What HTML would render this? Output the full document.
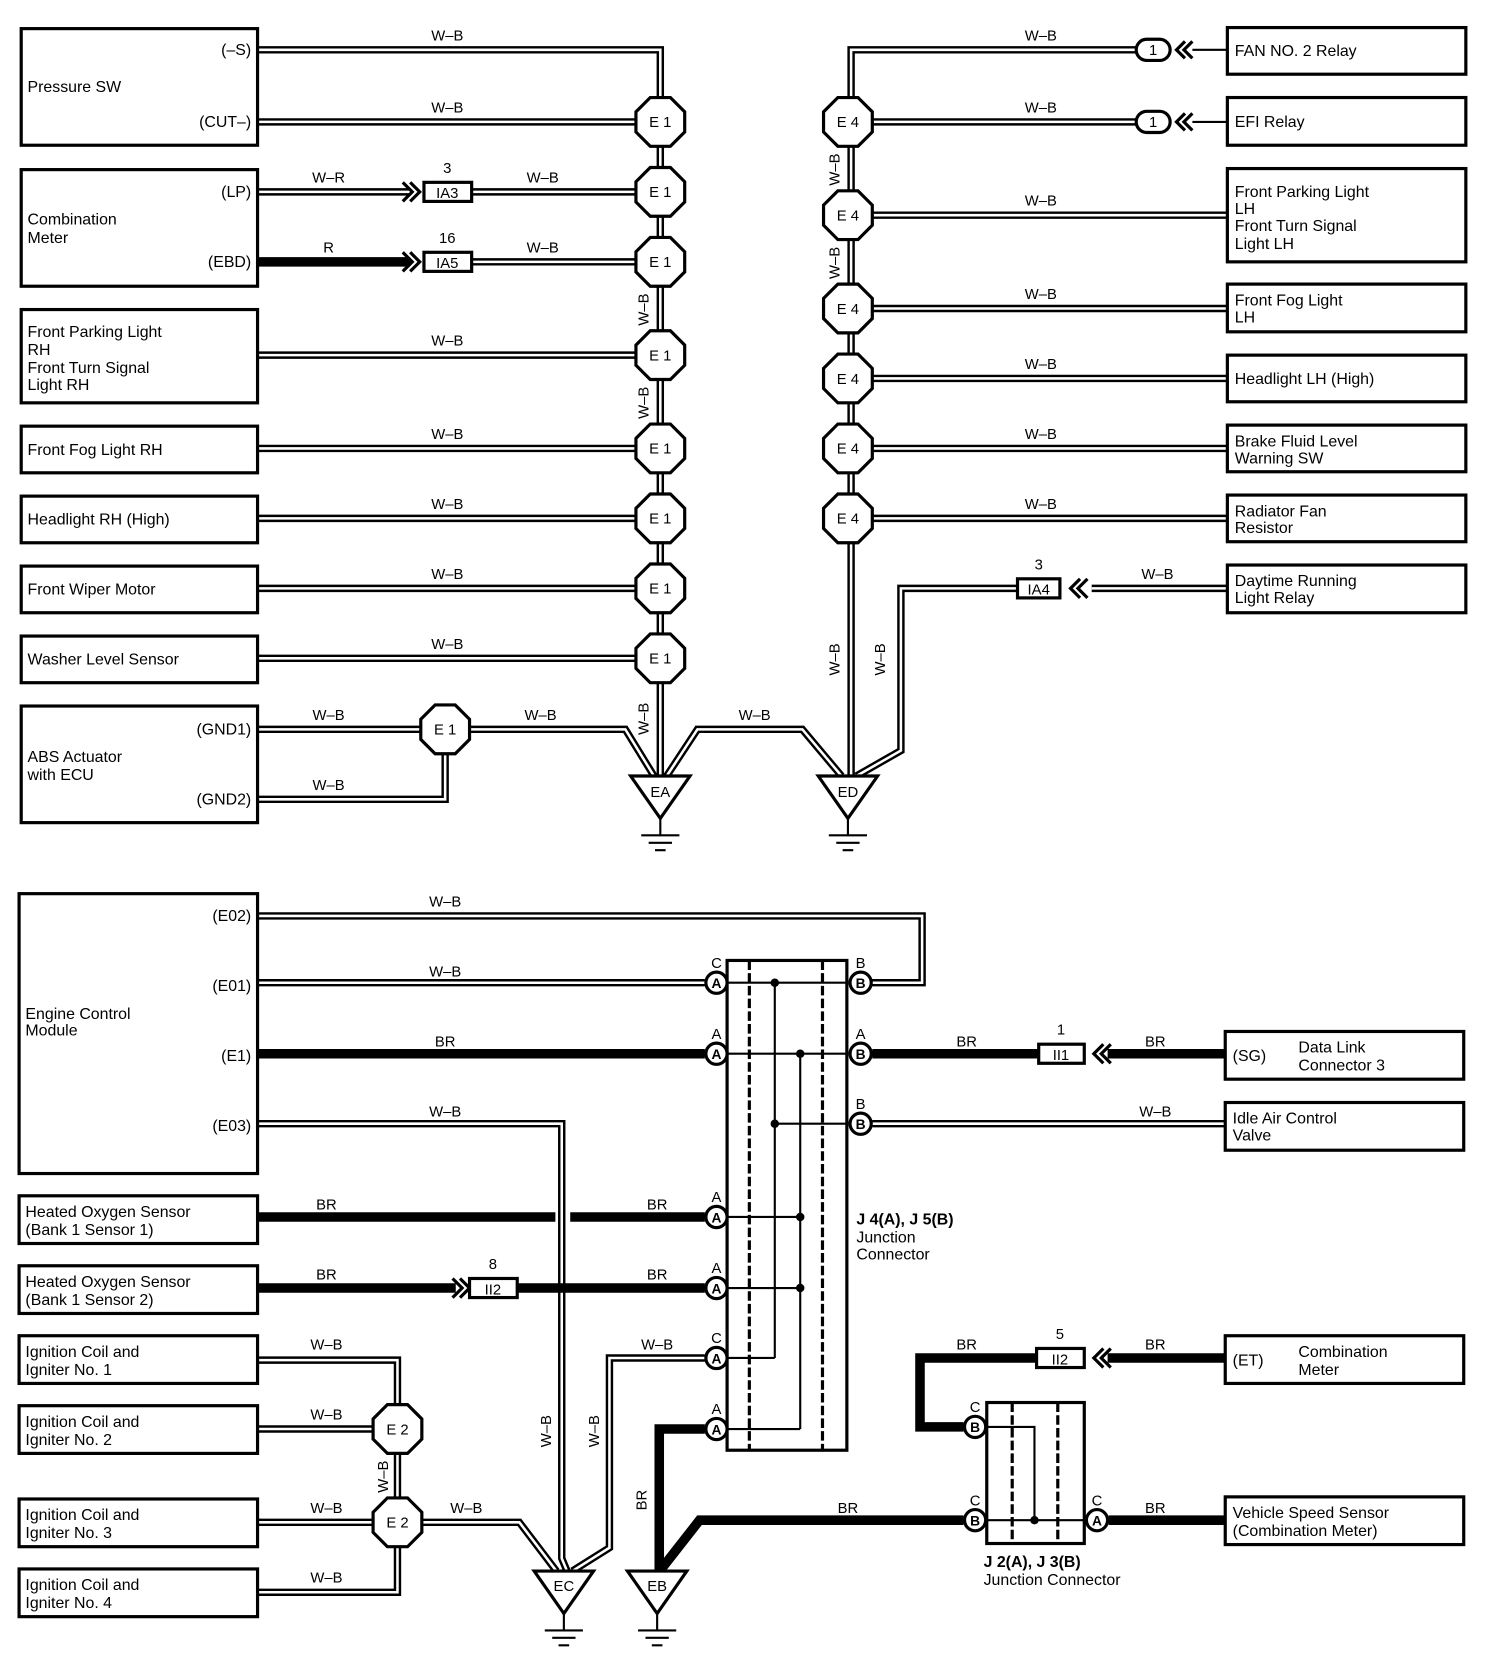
<!DOCTYPE html>
<html><head><meta charset="utf-8"><style>
html,body{margin:0;padding:0;background:#fff}
svg{display:block}
text{font-family:"Liberation Sans",sans-serif;font-size:15px;fill:#000}
.b{fill:#fff;stroke:#000;stroke-width:3}
.wb{fill:none;stroke:#000;stroke-width:7}
.wi{fill:none;stroke:#fff;stroke-width:2.4}
.br{fill:none;stroke:#000;stroke-width:9}
.t{fill:none;stroke:#000;stroke-width:2}
.c{fill:#fff;stroke:#000;stroke-width:3}
.ct{font-size:13px;font-weight:bold;text-anchor:middle}
.lb{font-size:14px;text-anchor:middle}
.sm{font-size:14px;text-anchor:middle}
.ch{fill:none;stroke:#000;stroke-width:3}
</style></head><body>
<svg width="1504" height="1658" viewBox="0 0 1419 1564" preserveAspectRatio="none" xmlns="http://www.w3.org/2000/svg">
<defs>
<polygon id="oct" points="-9.5,-23 9.5,-23 23,-9.5 23,9.5 9.5,23 -9.5,23 -23,9.5 -23,-9.5" class="c"/>
</defs>

<!-- ===== TOP WIRES (W-B double) ===== -->
<g>
<path id="w1" d="M243,47 H623 V732 M243,115 H600 M445,181 H600 M445,247 H600 M243,335 H600 M243,423 H600 M243,489 H600 M243,555 H600 M243,621 H600 M243,688 H397 M443,688 H590 L617,732 M243,754 H420 V711 M629,732 L658,688 H757 L794,732 M1072,47 H803 V732 M823,115 H1072 M823,203 H1158 M823,291 H1158 M823,357 H1158 M823,423 H1158 M823,489 H1158 M1158,555 H1030 M960,555 H850 V708 L808,732" class="wb"/>
<path d="M243,47 H623 V732 M243,115 H600 M445,181 H600 M445,247 H600 M243,335 H600 M243,423 H600 M243,489 H600 M243,555 H600 M243,621 H600 M243,688 H397 M443,688 H590 L617,732 M243,754 H420 V711 M629,732 L658,688 H757 L794,732 M1072,47 H803 V732 M823,115 H1072 M823,203 H1158 M823,291 H1158 M823,357 H1158 M823,423 H1158 M823,489 H1158 M1158,555 H1030 M960,555 H850 V708 L808,732" class="wi"/>
<!-- W-R -->
<path d="M243,181 H387" class="wb"/><path d="M243,181 H387" class="wi"/>
<!-- R thick -->
<path d="M243,247 H387" class="br"/>
<!-- single lines to relays -->
<path d="M1125,47 H1158 M1125,115 H1158" class="t"/>
</g>

<!-- chevrons -->
<path d="M380,172 L389,181 L380,190 M387,172 L396,181 L387,190" class="ch"/>
<path d="M380,238 L389,247 L380,256 M387,238 L396,247 L387,256" class="ch"/>
<path d="M1019,546 L1010,555 L1019,564 M1026,546 L1017,555 L1026,564" class="ch"/>
<path d="M1118,39 L1110,47 L1118,55 M1125,39 L1117,47 L1125,55" class="ch"/>
<path d="M1118,107 L1110,115 L1118,123 M1125,107 L1117,115 L1125,123" class="ch"/>

<!-- IA boxes -->
<rect x="400" y="172" width="45" height="18" class="b"/><text x="422" y="187" class="sm">IA3</text><text x="422" y="163" class="sm">3</text>
<rect x="400" y="238" width="45" height="18" class="b"/><text x="422" y="253" class="sm">IA5</text><text x="422" y="229" class="sm">16</text>
<rect x="960" y="546" width="40" height="18" class="b"/><text x="980" y="561" class="sm">IA4</text><text x="980" y="537" class="sm">3</text>
<!-- pills -->
<rect x="1072" y="37" width="32" height="20" rx="10" class="b"/><text x="1088" y="52" class="sm">1</text>
<rect x="1072" y="105" width="32" height="20" rx="10" class="b"/><text x="1088" y="120" class="sm">1</text>

<!-- octagons E1 -->
<g>
<use href="#oct" x="623" y="115"/><use href="#oct" x="623" y="181"/><use href="#oct" x="623" y="247"/><use href="#oct" x="623" y="335"/><use href="#oct" x="623" y="423"/><use href="#oct" x="623" y="489"/><use href="#oct" x="623" y="555"/><use href="#oct" x="623" y="621"/><use href="#oct" x="420" y="688"/>
<use href="#oct" x="800" y="115"/><use href="#oct" x="800" y="203"/><use href="#oct" x="800" y="291"/><use href="#oct" x="800" y="357"/><use href="#oct" x="800" y="423"/><use href="#oct" x="800" y="489"/>
</g>
<g class="sm" style="font-size:15px">
<text x="623" y="120" class="sm">E 1</text><text x="623" y="186" class="sm">E 1</text><text x="623" y="252" class="sm">E 1</text><text x="623" y="340" class="sm">E 1</text><text x="623" y="428" class="sm">E 1</text><text x="623" y="494" class="sm">E 1</text><text x="623" y="560" class="sm">E 1</text><text x="623" y="626" class="sm">E 1</text><text x="420" y="693" class="sm">E 1</text>
<text x="800" y="120" class="sm">E 4</text><text x="800" y="208" class="sm">E 4</text><text x="800" y="296" class="sm">E 4</text><text x="800" y="362" class="sm">E 4</text><text x="800" y="428" class="sm">E 4</text><text x="800" y="494" class="sm">E 4</text>
</g>

<!-- ground EA ED -->
<g>
<polygon points="595,732 651,732 623,772" class="b"/><text x="623" y="752" class="sm">EA</text>
<path d="M623,772 V788 M605,788 H641 M612,795 H634 M618,802 H628" class="t"/>
<polygon points="772,732 828,732 800,772" class="b"/><text x="800" y="752" class="sm">ED</text>
<path d="M800,772 V788 M782,788 H818 M789,795 H811 M795,802 H805" class="t"/>
</g>

<!-- top wire labels -->
<g class="lb">
<text x="422" y="38" class="lb">W–B</text><text x="422" y="106" class="lb">W–B</text>
<text x="310" y="172" class="lb">W–R</text><text x="512" y="172" class="lb">W–B</text>
<text x="310" y="238" class="lb">R</text><text x="512" y="238" class="lb">W–B</text>
<text x="422" y="326" class="lb">W–B</text><text x="422" y="414" class="lb">W–B</text><text x="422" y="480" class="lb">W–B</text><text x="422" y="546" class="lb">W–B</text><text x="422" y="612" class="lb">W–B</text>
<text x="310" y="679" class="lb">W–B</text><text x="510" y="679" class="lb">W–B</text><text x="310" y="745" class="lb">W–B</text>
<text x="712" y="679" class="lb">W–B</text>
<text x="982" y="38" class="lb">W–B</text><text x="982" y="106" class="lb">W–B</text><text x="982" y="194" class="lb">W–B</text><text x="982" y="282" class="lb">W–B</text><text x="982" y="348" class="lb">W–B</text><text x="982" y="414" class="lb">W–B</text><text x="982" y="480" class="lb">W–B</text><text x="1092" y="546" class="lb">W–B</text>
</g>
<g>
<text transform="translate(612,292) rotate(-90)" class="lb">W–B</text>
<text transform="translate(612,380) rotate(-90)" class="lb">W–B</text>
<text transform="translate(612,678) rotate(-90)" class="lb">W–B</text>
<text transform="translate(792,160) rotate(-90)" class="lb">W–B</text>
<text transform="translate(792,248) rotate(-90)" class="lb">W–B</text>
<text transform="translate(792,622) rotate(-90)" class="lb">W–B</text>
<text transform="translate(835,622) rotate(-90)" class="lb">W–B</text>
</g>

<!-- top boxes left -->
<rect x="20" y="27" width="223" height="110" class="b"/>
<text x="26" y="87">Pressure SW</text><text x="237" y="52" text-anchor="end">(–S)</text><text x="237" y="120" text-anchor="end">(CUT–)</text>
<rect x="20" y="160" width="223" height="110" class="b"/>
<text x="26" y="212">Combination</text><text x="26" y="229">Meter</text><text x="237" y="186" text-anchor="end">(LP)</text><text x="237" y="252" text-anchor="end">(EBD)</text>
<rect x="20" y="292" width="223" height="88" class="b"/>
<text x="26" y="318">Front Parking Light</text><text x="26" y="335">RH</text><text x="26" y="352">Front Turn Signal</text><text x="26" y="368">Light RH</text>
<rect x="20" y="402" width="223" height="44" class="b"/><text x="26" y="429">Front Fog Light RH</text>
<rect x="20" y="468" width="223" height="44" class="b"/><text x="26" y="495">Headlight RH (High)</text>
<rect x="20" y="534" width="223" height="44" class="b"/><text x="26" y="561">Front Wiper Motor</text>
<rect x="20" y="600" width="223" height="44" class="b"/><text x="26" y="627">Washer Level Sensor</text>
<rect x="20" y="666" width="223" height="110" class="b"/>
<text x="26" y="719">ABS Actuator</text><text x="26" y="736">with ECU</text><text x="237" y="693" text-anchor="end">(GND1)</text><text x="237" y="759" text-anchor="end">(GND2)</text>

<!-- top boxes right -->
<rect x="1158" y="26" width="225" height="44" class="b"/><text x="1165" y="53">FAN NO. 2 Relay</text>
<rect x="1158" y="92" width="225" height="45" class="b"/><text x="1165" y="120">EFI Relay</text>
<rect x="1158" y="159" width="225" height="88" class="b"/>
<text x="1165" y="186">Front Parking Light</text><text x="1165" y="202">LH</text><text x="1165" y="218">Front Turn Signal</text><text x="1165" y="235">Light LH</text>
<rect x="1158" y="268" width="225" height="45" class="b"/><text x="1165" y="288">Front Fog Light</text><text x="1165" y="304">LH</text>
<rect x="1158" y="335" width="225" height="44" class="b"/><text x="1165" y="362">Headlight LH (High)</text>
<rect x="1158" y="401" width="225" height="44" class="b"/><text x="1165" y="421">Brake Fluid Level</text><text x="1165" y="437">Warning SW</text>
<rect x="1158" y="467" width="225" height="44" class="b"/><text x="1165" y="487">Radiator Fan</text><text x="1165" y="503">Resistor</text>
<rect x="1158" y="533" width="225" height="45" class="b"/><text x="1165" y="553">Daytime Running</text><text x="1165" y="569">Light Relay</text>

<!-- ===== BOTTOM ===== -->
<path d="M243,864 H870 V927 H822 M243,927 H665 M243,1060 H530 V1470 L535,1482 M823,1060 H1156 M665,1281 H575 V1460 L540,1482 M243,1283 H375 V1325 M243,1348 H352 M375,1371 V1413 M243,1436 H352 M243,1502 H375 V1459 M398,1436 H490 L525,1482" class="wb"/>
<path d="M243,864 H870 V927 H822 M243,927 H665 M243,1060 H530 V1470 L535,1482 M823,1060 H1156 M665,1281 H575 V1460 L540,1482 M243,1283 H375 V1325 M243,1348 H352 M375,1371 V1413 M243,1436 H352 M243,1502 H375 V1459 M398,1436 H490 L525,1482" class="wi"/>
<path d="M243,994 H665 M823,994 H980 M1045,994 H1156 M243,1148 H524 M538,1148 H665 M243,1215 H430 M488,1215 H665 M665,1348 H622 V1482 M909,1434 H660 L624,1480 M909,1346 H868 V1281 H978 M1045,1281 H1156 M1046,1434 H1156" class="br"/>

<path d="M1041,985 L1032,994 L1041,1003 M1048,985 L1039,994 L1048,1003" class="ch"/>
<path d="M1041,1272 L1032,1281 L1041,1290 M1048,1272 L1039,1281 L1048,1290" class="ch"/>
<path d="M427,1206 L436,1215 L427,1224 M434,1206 L443,1215 L434,1224" class="ch"/>

<rect x="980" y="985" width="43" height="18" class="b"/><text x="1001" y="1000" class="sm">II1</text><text x="1001" y="976" class="sm">1</text>
<rect x="443" y="1206" width="45" height="18" class="b"/><text x="465" y="1221" class="sm">II2</text><text x="465" y="1197" class="sm">8</text>
<rect x="978" y="1272" width="45" height="18" class="b"/><text x="1000" y="1287" class="sm">II2</text><text x="1000" y="1263" class="sm">5</text>

<!-- J4/J5 -->
<rect x="686" y="906" width="113" height="462" class="b"/>
<path d="M707,906 V1368 M776,906 V1368" stroke="#000" stroke-width="3" stroke-dasharray="9,3" fill="none"/>
<path d="M686,927 H799 M731,927 V1281 M686,994 H799 M755,994 V1348 M731,1060 H799 M686,1148 H755 M686,1215 H755 M686,1281 H731 M686,1348 H755" class="t"/>
<g fill="#000"><circle cx="731" cy="927" r="4"/><circle cx="755" cy="994" r="4"/><circle cx="731" cy="1060" r="4"/><circle cx="755" cy="1148" r="4"/><circle cx="755" cy="1215" r="4"/></g>
<g>
<circle cx="676" cy="927" r="10" class="c"/><text x="676" y="932" class="ct">A</text><text x="676" y="913" class="sm">C</text>
<circle cx="676" cy="994" r="10" class="c"/><text x="676" y="999" class="ct">A</text><text x="676" y="980" class="sm">A</text>
<circle cx="676" cy="1148" r="10" class="c"/><text x="676" y="1153" class="ct">A</text><text x="676" y="1134" class="sm">A</text>
<circle cx="676" cy="1215" r="10" class="c"/><text x="676" y="1220" class="ct">A</text><text x="676" y="1201" class="sm">A</text>
<circle cx="676" cy="1281" r="10" class="c"/><text x="676" y="1286" class="ct">A</text><text x="676" y="1267" class="sm">C</text>
<circle cx="676" cy="1348" r="10" class="c"/><text x="676" y="1353" class="ct">A</text><text x="676" y="1334" class="sm">A</text>
<circle cx="812" cy="927" r="10" class="c"/><text x="812" y="932" class="ct">B</text><text x="812" y="913" class="sm">B</text>
<circle cx="812" cy="994" r="10" class="c"/><text x="812" y="999" class="ct">B</text><text x="812" y="980" class="sm">A</text>
<circle cx="812" cy="1060" r="10" class="c"/><text x="812" y="1065" class="ct">B</text><text x="812" y="1046" class="sm">B</text>
</g>
<text x="808" y="1155" font-weight="bold">J 4(A), J 5(B)</text><text x="808" y="1172">Junction</text><text x="808" y="1188">Connector</text>

<!-- J2/J3 -->
<rect x="931" y="1323" width="92" height="133" class="b"/>
<path d="M955,1323 V1456 M998,1323 V1456" stroke="#000" stroke-width="3" stroke-dasharray="9,3" fill="none"/>
<path d="M931,1346 H976 V1434 M931,1434 H1023" class="t"/>
<circle cx="976" cy="1434" r="4" fill="#000"/>
<circle cx="920" cy="1346" r="10" class="c"/><text x="920" y="1351" class="ct">B</text><text x="920" y="1332" class="sm">C</text>
<circle cx="920" cy="1434" r="10" class="c"/><text x="920" y="1439" class="ct">B</text><text x="920" y="1420" class="sm">C</text>
<circle cx="1035" cy="1434" r="10" class="c"/><text x="1035" y="1439" class="ct">A</text><text x="1035" y="1420" class="sm">C</text>
<text x="928" y="1478" font-weight="bold">J 2(A), J 3(B)</text><text x="928" y="1495">Junction Connector</text>

<!-- E2 -->
<use href="#oct" x="375" y="1348"/><use href="#oct" x="375" y="1436"/>
<text x="375" y="1353" class="sm">E 2</text><text x="375" y="1441" class="sm">E 2</text>

<!-- ground EC EB -->
<polygon points="504,1482 560,1482 532,1522" class="b"/><text x="532" y="1501" class="sm">EC</text>
<path d="M532,1522 V1538 M514,1538 H550 M521,1545 H543 M527,1552 H537" class="t"/>
<polygon points="592,1482 648,1482 620,1522" class="b"/><text x="620" y="1501" class="sm">EB</text>
<path d="M620,1522 V1538 M602,1538 H638 M609,1545 H631 M615,1552 H625" class="t"/>

<!-- bottom labels -->
<g>
<text x="420" y="855" class="lb">W–B</text><text x="420" y="921" class="lb">W–B</text><text x="420" y="987" class="lb">BR</text><text x="420" y="1053" class="lb">W–B</text>
<text x="308" y="1141" class="lb">BR</text><text x="620" y="1141" class="lb">BR</text>
<text x="308" y="1207" class="lb">BR</text><text x="620" y="1207" class="lb">BR</text>
<text x="620" y="1273" class="lb">W–B</text>
<text x="912" y="987" class="lb">BR</text><text x="1090" y="987" class="lb">BR</text><text x="1090" y="1053" class="lb">W–B</text>
<text x="912" y="1273" class="lb">BR</text><text x="1090" y="1273" class="lb">BR</text>
<text x="800" y="1427" class="lb">BR</text><text x="1090" y="1427" class="lb">BR</text>
<text x="308" y="1273" class="lb">W–B</text><text x="308" y="1339" class="lb">W–B</text><text x="308" y="1427" class="lb">W–B</text><text x="440" y="1427" class="lb">W–B</text><text x="308" y="1493" class="lb">W–B</text>
<text transform="translate(520,1350) rotate(-90)" class="lb">W–B</text>
<text transform="translate(565,1350) rotate(-90)" class="lb">W–B</text>
<text transform="translate(366,1393) rotate(-90)" class="lb">W–B</text>
<text transform="translate(610,1415) rotate(-90)" class="lb">BR</text>
</g>

<!-- bottom boxes -->
<rect x="18" y="843" width="225" height="264" class="b"/>
<text x="24" y="961">Engine Control</text><text x="24" y="977">Module</text>
<text x="237" y="869" text-anchor="end">(E02)</text><text x="237" y="935" text-anchor="end">(E01)</text><text x="237" y="1001" text-anchor="end">(E1)</text><text x="237" y="1067" text-anchor="end">(E03)</text>
<rect x="18" y="1128" width="225" height="45" class="b"/><text x="24" y="1148">Heated Oxygen Sensor</text><text x="24" y="1165">(Bank 1 Sensor 1)</text>
<rect x="18" y="1194" width="225" height="45" class="b"/><text x="24" y="1214">Heated Oxygen Sensor</text><text x="24" y="1231">(Bank 1 Sensor 2)</text>
<rect x="18" y="1260" width="225" height="45" class="b"/><text x="24" y="1280">Ignition Coil and</text><text x="24" y="1297">Igniter No. 1</text>
<rect x="18" y="1326" width="225" height="45" class="b"/><text x="24" y="1346">Ignition Coil and</text><text x="24" y="1363">Igniter No. 2</text>
<rect x="18" y="1414" width="225" height="45" class="b"/><text x="24" y="1434">Ignition Coil and</text><text x="24" y="1451">Igniter No. 3</text>
<rect x="18" y="1480" width="225" height="45" class="b"/><text x="24" y="1500">Ignition Coil and</text><text x="24" y="1517">Igniter No. 4</text>

<rect x="1156" y="973" width="225" height="45" class="b"/><text x="1163" y="1001">(SG)</text><text x="1225" y="993">Data Link</text><text x="1225" y="1010">Connector 3</text>
<rect x="1156" y="1040" width="225" height="45" class="b"/><text x="1163" y="1060">Idle Air Control</text><text x="1163" y="1076">Valve</text>
<rect x="1156" y="1260" width="225" height="45" class="b"/><text x="1163" y="1288">(ET)</text><text x="1225" y="1280">Combination</text><text x="1225" y="1297">Meter</text>
<rect x="1156" y="1412" width="225" height="45" class="b"/><text x="1163" y="1432">Vehicle Speed Sensor</text><text x="1163" y="1449">(Combination Meter)</text>
</svg>
</body></html>
